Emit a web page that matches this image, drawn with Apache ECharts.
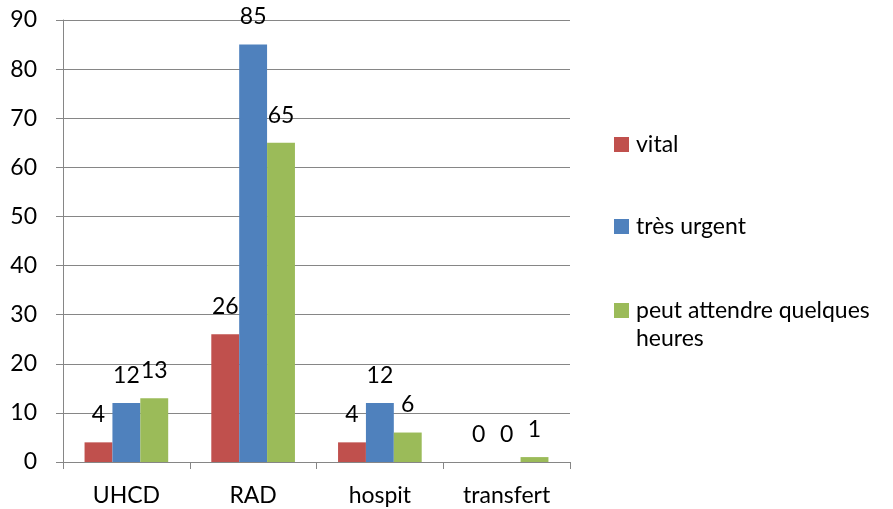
<!DOCTYPE html>
<html>
<head>
<meta charset="utf-8">
<script src="https://cdn.jsdelivr.net/npm/echarts@6/dist/echarts.min.js"></script>
<style>
  html, body { margin: 0; padding: 0; background: #fff; }
  #chart { width: 893px; height: 509px; }
</style>
</head>
<body>
<div id="chart"></div>
<script>
// Categories of patient outcome and the counts per urgency level
const categories = ['UHCD', 'RAD', 'hospit', 'transfert'];
const vital = [4, 26, 4, 0];
const tresUrgent = [12, 85, 12, 0];
const peutAttendre = [13, 65, 6, 1];
const yTicks = [0, 10, 20, 30, 40, 50, 60, 70, 80, 90];

const FONT = 'Lato, "Open Sans", sans-serif';
const FS = 23;
const axisGrey = '#868686';

const chart = echarts.init(document.getElementById('chart'));

function barSeries(name, data, color) {
  return {
    name: name,
    type: 'bar',
    data: data,
    barGap: '0%',
    barCategoryGap: '34%',
    itemStyle: { color: color },
    label: {
      show: true,
      position: 'top',
      distance: 16,
      color: '#000',
      fontFamily: FONT,
      fontSize: FS
    }
  };
}

function legendAt(top, name) {
  return {
    orient: 'vertical',
    left: 614,
    top: top,
    padding: 0,
    itemWidth: 15,
    itemHeight: 15,
    itemGap: 0,
    icon: 'rect',
    selectedMode: false,
    data: [name],
    textStyle: { color: '#000', fontFamily: FONT, fontSize: FS, padding: [0, 0, 0, 2] }
  };
}

chart.setOption({
  animation: false,
  backgroundColor: '#fff',
  textStyle: { fontFamily: FONT },
  grid: { left: 63, right: 323, top: 20, bottom: 47, containLabel: false },
  legend: [
    legendAt(133, 'vital'),
    legendAt(215, 'très urgent'),
    {
      orient: 'vertical',
      left: 614,
      top: 299,
      padding: 0,
      itemWidth: 15,
      itemHeight: 15,
      icon: 'rect',
      selectedMode: false,
      data: ['peut attendre quelques heures'],
      formatter: function () { return '{a|peut attendre quelques}\n{a|heures}'; },
      textStyle: {
        color: '#000',
        fontFamily: FONT,
        fontSize: FS,
        padding: [28, 0, 0, 2],
        rich: { a: { fontFamily: FONT, fontSize: FS, lineHeight: 28, color: '#000' } }
      }
    }
  ],
  xAxis: {
    type: 'category',
    data: categories,
    axisLine: { lineStyle: { color: axisGrey, width: 1 } },
    axisTick: { show: true, length: 7, lineStyle: { color: axisGrey } },
    axisLabel: { color: '#000', fontFamily: FONT, fontSize: FS, margin: 22 }
  },
  yAxis: {
    type: 'value',
    min: yTicks[0],
    max: yTicks[yTicks.length - 1],
    interval: 10,
    axisLine: { show: true, lineStyle: { color: axisGrey, width: 1 } },
    axisTick: { show: true, length: 7, lineStyle: { color: axisGrey } },
    splitLine: { show: true, lineStyle: { color: axisGrey, width: 1 } },
    axisLabel: { color: '#000', fontFamily: FONT, fontSize: FS, margin: 26 }
  },
  series: [
    barSeries('vital', vital, '#C0504D'),
    barSeries('très urgent', tresUrgent, '#4F81BD'),
    barSeries('peut attendre quelques heures', peutAttendre, '#9BBB59')
  ]
});
</script>
</body>
</html>
